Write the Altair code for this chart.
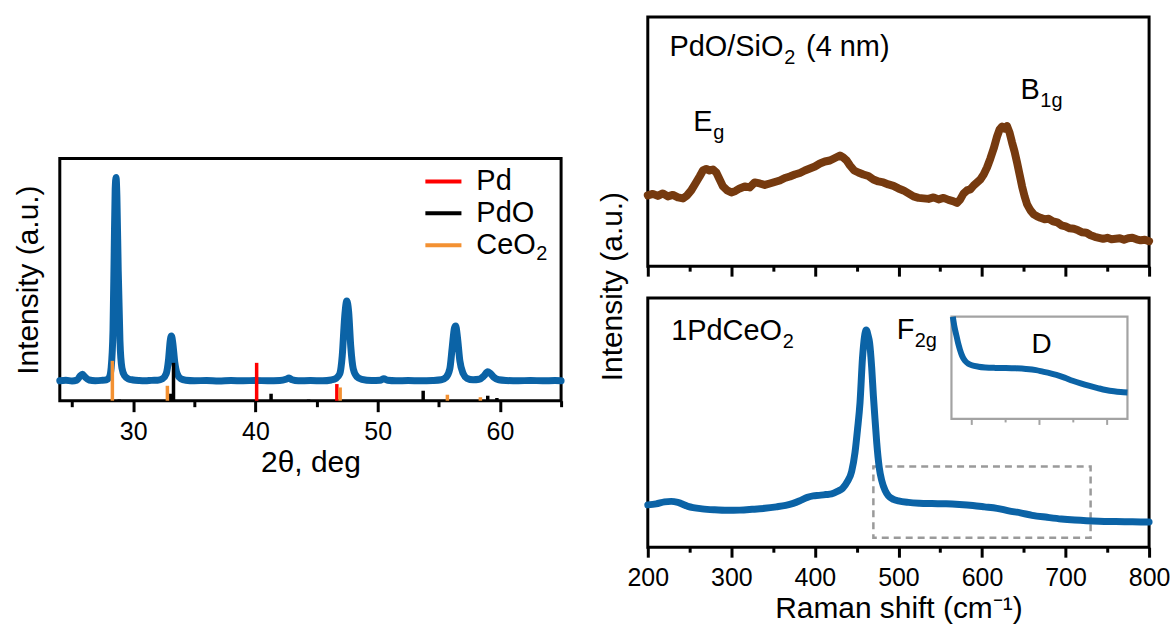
import altair as alt
import pandas as pd

FONT = "Liberation Sans"
BLUE = "#0b63a6"
BROWN = "#763a0f"
INK = "#000000"
FRAME_GRAY = "#a3a3a3"
DASH_GRAY = "#9a9a9a"

# ---------------- XRD pattern (2theta, intensity) ----------------
xrd_2theta = [
    24.0, 24.5, 25.0, 25.4, 25.65, 25.85, 26.05, 26.4, 26.9, 27.4,
    27.8, 28.05, 28.2, 28.35, 28.45, 28.53, 28.6, 28.67, 28.78, 28.92,
    29.08, 29.3, 29.6, 30.0, 30.5, 31.0, 31.5, 32.0, 32.4, 32.7,
    32.9, 33.03, 33.13, 33.24, 33.4, 33.6, 33.9, 34.3, 35.0, 36.0,
    37.0, 38.0, 39.0, 40.0, 41.0, 42.0, 42.5, 42.75, 43.0, 43.5,
    44.5, 45.5, 46.2, 46.6, 46.9, 47.1, 47.3, 47.47, 47.62, 47.8,
    48.0, 48.3, 48.7, 49.5, 50.2, 50.5, 50.8, 51.5, 52.5, 53.5,
    54.5, 55.2, 55.6, 55.9, 56.1, 56.28, 56.38, 56.52, 56.72, 57.0,
    57.3, 57.8, 58.3, 58.7, 59.0, 59.2, 59.5, 59.9, 60.5, 61.5,
    62.5, 63.5, 64.5, 65.0]
xrd_intensity = [
    20.0, 20.5, 19.8, 20.6, 24.5, 26.5, 24.0, 20.8, 20.1, 20.4,
    21.0, 23.5, 33.0, 70.0, 150.0, 212.0, 224.0, 205.0, 130.0, 60.0,
    33.0, 25.0, 22.0, 20.8, 20.2, 20.0, 20.4, 20.6, 22.0, 27.0,
    42.0, 60.0, 65.0, 58.0, 39.0, 27.0, 22.0, 20.5, 20.0, 20.3,
    19.8, 20.2, 20.0, 20.3, 20.0, 20.2, 21.5, 22.8, 21.0, 20.0,
    20.2, 20.0, 20.8, 22.5, 27.0, 45.0, 84.0, 100.0, 90.0, 54.0,
    32.0, 24.0, 21.5, 20.3, 20.5, 22.0, 20.5, 20.0, 20.2, 20.0,
    20.3, 21.0, 23.5, 32.0, 54.0, 73.0, 75.0, 64.0, 40.0, 27.0,
    22.5, 21.0, 21.5, 25.0, 29.0, 27.5, 23.5, 21.0, 20.3, 20.0,
    20.3, 20.0, 20.2, 20.0]

# reference patterns (stick positions and heights)
pd_pos = [40.1, 46.66]
pd_h = [38, 16.7]
pdo_pos = [28.86, 33.05, 33.3, 41.28, 44.35, 53.72, 59.0, 59.75]
pdo_h = [1.2, 7, 38, 7, 1.2, 10, 5, 2.7]
ceo2_pos = [28.3, 32.8, 46.93, 55.7, 58.4]
ceo2_h = [40, 15, 13.3, 6, 3.5]

phase_names = ["Pd", "PdO", "CeO2"]
phase_colors = ["#ff0000", "#000000", "#f39132"]
legend_main = ["Pd", "PdO", "CeO"]
legend_sub = ["", "", "2"]

xrd_ticks = [25, 30, 35, 40, 45, 50, 55, 60, 65]

# ---------------- Raman: PdO/SiO2 ----------------
top_shift = [
    200, 206, 212, 218, 224, 230, 236, 242, 247, 252,
    257, 262, 266, 270, 274, 278, 282, 286, 290, 295,
    300, 305, 310, 316, 322, 328, 334, 340, 346, 352,
    358, 364, 370, 376, 382, 388, 394, 400, 406, 412,
    418, 424, 430, 434, 438, 442, 447, 452, 458, 464,
    470, 476, 482, 488, 494, 500, 506, 512, 518, 524,
    530, 536, 542, 548, 554, 560, 566, 570, 574, 578,
    582, 586, 590, 594, 598, 602, 606, 610, 614, 618,
    621, 624, 627, 630, 633, 636, 639, 642, 645, 648,
    651, 654, 658, 662, 666, 670, 675, 680, 685, 690,
    695, 700, 705, 710, 715, 720, 725, 730, 735, 740,
    745, 750, 755, 760, 765, 770, 775, 780, 785, 790,
    795, 800]
top_int = [
    71, 72.5, 70.5, 73, 70, 71.5, 69, 68, 71, 76,
    83, 90, 96, 97.5, 96, 97, 94, 87, 80, 76,
    74, 75.5, 78, 80, 79, 84, 83, 81.5, 83, 84.5,
    86, 88.5, 90, 92, 93.5, 96, 98, 100, 103, 105,
    106, 108.5, 111, 109, 106, 101, 96, 94, 92, 90.5,
    87, 85, 84, 82, 80.5, 78, 76, 73, 70, 68.5,
    68, 67.5, 69, 67, 68.5, 66.5, 65, 63.5, 67, 73,
    76, 77, 81, 84, 87, 92, 99, 108, 118, 130,
    137, 140, 138, 140.5, 134, 124, 115, 104, 92, 80,
    70, 62, 56, 52, 50, 48.5, 47, 47.5, 45, 44,
    41, 40, 38, 37.5, 36, 34, 33.5, 31, 29.5, 28.5,
    27.5, 28.5, 27, 27.5, 28, 26.5, 28, 28.5, 27, 26,
    26.5, 25]

# ---------------- Raman: 1PdCeO2 ----------------
bot_shift = [
    200, 210, 220, 228, 236, 248, 265, 280, 295, 310,
    325, 340, 354, 365, 374, 383, 391, 398, 405, 413,
    420, 427, 433, 439, 444, 448, 451, 454, 457, 459.5,
    461.5, 463.5, 465.5, 468, 470, 472, 474, 477, 480, 484,
    488, 494, 500, 512, 525, 540, 557, 573, 589, 603,
    618, 632, 646, 660, 678, 695, 711, 725, 740, 760,
    780, 800]
bot_int = [
    42.5, 43.5, 45.5, 46, 45, 41, 38.5, 37.5, 37, 37.2,
    38, 39, 40.5, 42, 44, 47, 50, 51.5, 52, 52.8,
    53.5, 56, 59, 66, 76, 95, 118, 145, 190, 212,
    218, 213, 205, 180, 152, 128, 105, 80, 67, 57,
    51.5, 48, 46.5, 45, 44.2, 43.8, 43.5, 42.8, 41.8, 40.5,
    39, 36.5, 34.5, 32, 30, 28.3, 27.2, 26.5, 26, 25.7,
    25.5, 25.3]

# inset (zoom of the D-band region, 470-730 cm-1)
inset_shift = [472, 474.5, 477.5, 480, 482.5, 486, 490, 495, 500, 510,
               520, 535, 550, 565, 580, 595, 605, 615, 625, 637,
               649, 661, 674, 686, 698, 710, 720, 730]
inset_int = [77, 70, 64, 59, 55, 50.5, 47.5, 45.5, 44.5, 43.5,
             43, 42.7, 42.6, 42.4, 42, 41.2, 40.2, 39.2, 38, 36.2,
             34.1, 32.3, 30.6, 29.2, 27.9, 27, 26.5, 26.2]
inset_ticks = [500, 550, 600, 650, 700]
raman_ticks = [200, 250, 300, 350, 400, 450, 500, 550, 600, 650, 700, 750, 800]

# ---------------- layout constants ----------------
PANEL_W = 503
XRD_H = 243
RAMAN_H = 250
XRD_X = [24, 65]
XRD_Y = [0, 243]
RAMAN_X = [200, 800]
RAMAN_Y = [0, 250]
ZOOM_X = [470, 730]
ZOOM_Y = [9.5, 81]
INSET_Y = [8.5, 77]
INSET_BOX = (304.7, 481.3, 18.7, 121.3)  # left, right, top, bottom (px in panel)

ux = (ZOOM_X[1] - ZOOM_X[0]) / (INSET_BOX[1] - INSET_BOX[0])
uy = (INSET_Y[1] - INSET_Y[0]) / (INSET_BOX[3] - INSET_BOX[2])
INSET_XDOM = [ZOOM_X[0] - INSET_BOX[0] * ux, ZOOM_X[1] + (PANEL_W - INSET_BOX[1]) * ux]
INSET_YDOM = [INSET_Y[0] - (RAMAN_H - INSET_BOX[3]) * uy, INSET_Y[1] + INSET_BOX[2] * uy]


def bottom_axis(values, major_mod, major_len, minor_len, title, show_labels, label_pad, title_pad):
    kw = dict(values=values, domain=False, grid=False, ticks=True, tickColor=INK, tickWidth=3,
              tickSize={"condition": {"test": f"datum.value % {major_mod} === 0", "value": major_len},
                        "value": minor_len},
              labelFontSize=25, labelColor=INK, labelFont=FONT, labelPadding=label_pad,
              labelFlush=False, labelOverlap=False)
    if show_labels:
        kw.update(labelExpr=f"datum.value % {major_mod} === 0 ? datum.label : ''",
                  title=title, titleFontSize=30, titleFont=FONT, titleFontWeight="normal",
                  titleColor=INK, titlePadding=title_pad)
    else:
        kw.update(labels=False, title=None)
    return alt.Axis(**kw)


def yaxis_title(pad, title_y=None):
    kw = dict(title="Intensity (a.u.)", labels=False, ticks=False, domain=False, grid=False,
              titlePadding=pad, titleFontSize=30, titleFont=FONT, titleFontWeight="normal",
              titleColor=INK)
    if title_y is not None:
        kw["titleY"] = title_y
    return alt.Axis(**kw)


# ================= Left: XRD =================
xs_xrd = alt.Scale(domain=XRD_X, nice=False, zero=False)
ys_xrd = alt.Scale(domain=XRD_Y, nice=False, zero=False)
ax_xrd = bottom_axis(xrd_ticks, 10, 11, 6, "2θ, deg", True, 8, 3)
ay_xrd = yaxis_title(16)


def X1(f):
    return alt.X(f, type="quantitative", scale=xs_xrd, axis=ax_xrd)


def Y1(f):
    return alt.Y(f, type="quantitative", scale=ys_xrd, axis=ay_xrd)


df_xrd = pd.DataFrame({"x": xrd_2theta, "y": xrd_intensity})
stick_rows = []
for name, pos, hts in [("Pd", pd_pos, pd_h), ("PdO", pdo_pos, pdo_h), ("CeO2", ceo2_pos, ceo2_h)]:
    for p, h in zip(pos, hts):
        stick_rows.append({"phase": name, "x": p, "y": 0.0, "y2": h})
df_sticks = pd.DataFrame(stick_rows)

color_phase = alt.Color("phase:N", scale=alt.Scale(domain=phase_names, range=phase_colors), legend=None)

xrd_line = alt.Chart(df_xrd).mark_line(
    color=BLUE, strokeWidth=7, interpolate="monotone", strokeJoin="round", strokeCap="round"
).encode(x=X1("x"), y=Y1("y"))

xrd_sticks = alt.Chart(df_sticks).mark_rule(strokeWidth=3.5).encode(
    x=X1("x"), y=Y1("y"), y2="y2:Q", color=color_phase)

LEG_X0, LEG_X1, LEG_TX = 53.9, 56.85, 58.07
LEG_Y = [220, 188, 156]
df_leg = pd.DataFrame({"phase": phase_names, "label": legend_main, "sub": legend_sub,
                       "x": [LEG_X0] * 3, "x2": [LEG_X1] * 3, "tx": [LEG_TX] * 3, "y": LEG_Y})
leg_lines = alt.Chart(df_leg).mark_rule(strokeWidth=4).encode(
    x=X1("x"), x2="x2:Q", y=Y1("y"), color=color_phase)
leg_text = alt.Chart(df_leg).mark_text(
    align="left", baseline="middle", fontSize=29, color=INK, font=FONT
).encode(x=X1("tx"), y=Y1("y"), text="label:N")
leg_sub = alt.Chart(df_leg).mark_text(
    align="left", baseline="middle", fontSize=20, color=INK, font=FONT, dx=60, dy=9
).encode(x=X1("tx"), y=Y1("y"), text="sub:N")

left = alt.layer(xrd_line, xrd_sticks, leg_lines, leg_text, leg_sub).properties(
    width=PANEL_W, height=XRD_H)

spacer = alt.Chart(pd.DataFrame({"x": [0]})).mark_text(text="").encode(
    x=alt.value(0), y=alt.value(0)
).properties(width=PANEL_W, height=142, view=alt.ViewBackground(strokeOpacity=0))

left_col = alt.vconcat(spacer, left, spacing=0, bounds="flush")

# ================= Right: Raman =================
xs_r = alt.Scale(domain=RAMAN_X, nice=False, zero=False)
ys_r = alt.Scale(domain=RAMAN_Y, nice=False, zero=False)
ax_top = bottom_axis(raman_ticks, 100, 10, 5, None, False, 8, 0)
ax_bot = bottom_axis(raman_ticks, 100, 10, 5, "Raman shift (cm⁻¹)", True, 8, 4)
ay_top = yaxis_title(20, title_y=270)


def text_layer(x, y, text, size, ax, ay, dx=0, dy=0, align="left", xs=xs_r, ys=ys_r):
    df = pd.DataFrame({"x": [x], "y": [y], "t": [text]})
    return alt.Chart(df).mark_text(
        align=align, baseline="alphabetic", fontSize=size, color=INK, font=FONT, dx=dx, dy=dy
    ).encode(x=alt.X("x:Q", scale=xs, axis=ax), y=alt.Y("y:Q", scale=ys, axis=ay), text="t:N")


df_top = pd.DataFrame({"x": top_shift, "y": top_int})
top_line = alt.Chart(df_top).mark_line(
    color=BROWN, strokeWidth=8, strokeJoin="round", strokeCap="round"
).encode(x=alt.X("x:Q", scale=xs_r, axis=ax_top), y=alt.Y("y:Q", scale=ys_r, axis=ay_top))

top = alt.layer(
    top_line,
    text_layer(226, 210.6, "PdO/SiO", 29, ax_top, ay_top),
    text_layer(226, 210.6, "2", 20, ax_top, ay_top, dx=115, dy=8),
    text_layer(226, 210.6, "(4 nm)", 29, ax_top, ay_top, dx=137),
    text_layer(254.5, 136, "E", 29, ax_top, ay_top),
    text_layer(254.5, 136, "g", 20, ax_top, ay_top, dx=20, dy=8),
    text_layer(646, 168, "B", 29, ax_top, ay_top),
    text_layer(646, 168, "1g", 20, ax_top, ay_top, dx=20, dy=8),
).properties(width=PANEL_W, height=RAMAN_H)

# bottom panel, main scales
df_bot = pd.DataFrame({"x": bot_shift, "y": bot_int})
df_zoom = pd.DataFrame({"x": [ZOOM_X[0]], "x2": [ZOOM_X[1]], "y": [ZOOM_Y[0]], "y2": [ZOOM_Y[1]]})
zoom_rect = alt.Chart(df_zoom).mark_rect(
    fill="white", fillOpacity=0, stroke=DASH_GRAY, strokeWidth=2.5, strokeDash=[7, 5]
).encode(x=alt.X("x:Q", scale=xs_r, axis=ax_bot), x2="x2:Q",
         y=alt.Y("y:Q", scale=ys_r, axis=None), y2="y2:Q")
bot_line = alt.Chart(df_bot).mark_line(
    color=BLUE, strokeWidth=7, interpolate="monotone", strokeJoin="round", strokeCap="round"
).encode(x=alt.X("x:Q", scale=xs_r, axis=ax_bot), y=alt.Y("y:Q", scale=ys_r, axis=None))

main_bot = alt.layer(
    zoom_rect, bot_line,
    text_layer(228, 207.5, "1PdCeO", 29, ax_bot, None),
    text_layer(228, 207.5, "2", 20, ax_bot, None, dx=112, dy=8),
    text_layer(498, 209.2, "F", 29, ax_bot, None),
    text_layer(498, 209.2, "2g", 20, ax_bot, None, dx=18, dy=8),
)

# inset with its own scales
xs_i = alt.Scale(domain=INSET_XDOM, nice=False, zero=False)
ys_i = alt.Scale(domain=INSET_YDOM, nice=False, zero=False)
df_box = pd.DataFrame({"x": [ZOOM_X[0]], "x2": [ZOOM_X[1]], "y": [INSET_Y[0]], "y2": [INSET_Y[1]]})
inset_box = alt.Chart(df_box).mark_rect(
    fill="white", fillOpacity=0, stroke=FRAME_GRAY, strokeWidth=2.2
).encode(x=alt.X("x:Q", scale=xs_i, axis=None), x2="x2:Q",
         y=alt.Y("y:Q", scale=ys_i, axis=None), y2="y2:Q")
tick_len = [6 if v % 100 == 0 else 3.5 for v in inset_ticks]
df_it = pd.DataFrame({"x": inset_ticks, "y": [INSET_Y[0]] * len(inset_ticks),
                      "y2": [INSET_Y[0] - L * uy for L in tick_len]})
inset_tk = alt.Chart(df_it).mark_rule(color=FRAME_GRAY, strokeWidth=2).encode(
    x=alt.X("x:Q", scale=xs_i, axis=None), y=alt.Y("y:Q", scale=ys_i, axis=None), y2="y2:Q")
df_in = pd.DataFrame({"x": inset_shift, "y": inset_int})
inset_line = alt.Chart(df_in).mark_line(
    color=BLUE, strokeWidth=6, interpolate="monotone", strokeJoin="round"
).encode(x=alt.X("x:Q", scale=xs_i, axis=None), y=alt.Y("y:Q", scale=ys_i, axis=None))
inset_lbl = text_layer(603, 52.9, "D", 28, None, None, align="center", xs=xs_i, ys=ys_i)

inset = alt.layer(inset_box, inset_tk, inset_line, inset_lbl)

bottom = alt.layer(main_bot, inset).resolve_scale(
    x="independent", y="independent").properties(width=PANEL_W, height=RAMAN_H)

right_col = alt.vconcat(top, bottom, spacing=32, bounds="flush")

chart = alt.hconcat(left_col, right_col, spacing=30).properties(
    padding={"left": 12, "top": 10, "right": 2, "bottom": 2}
).configure(font=FONT).configure_view(stroke=INK, strokeWidth=3)

chart.save("out.html", embed_options={"renderer": "svg", "actions": False})
